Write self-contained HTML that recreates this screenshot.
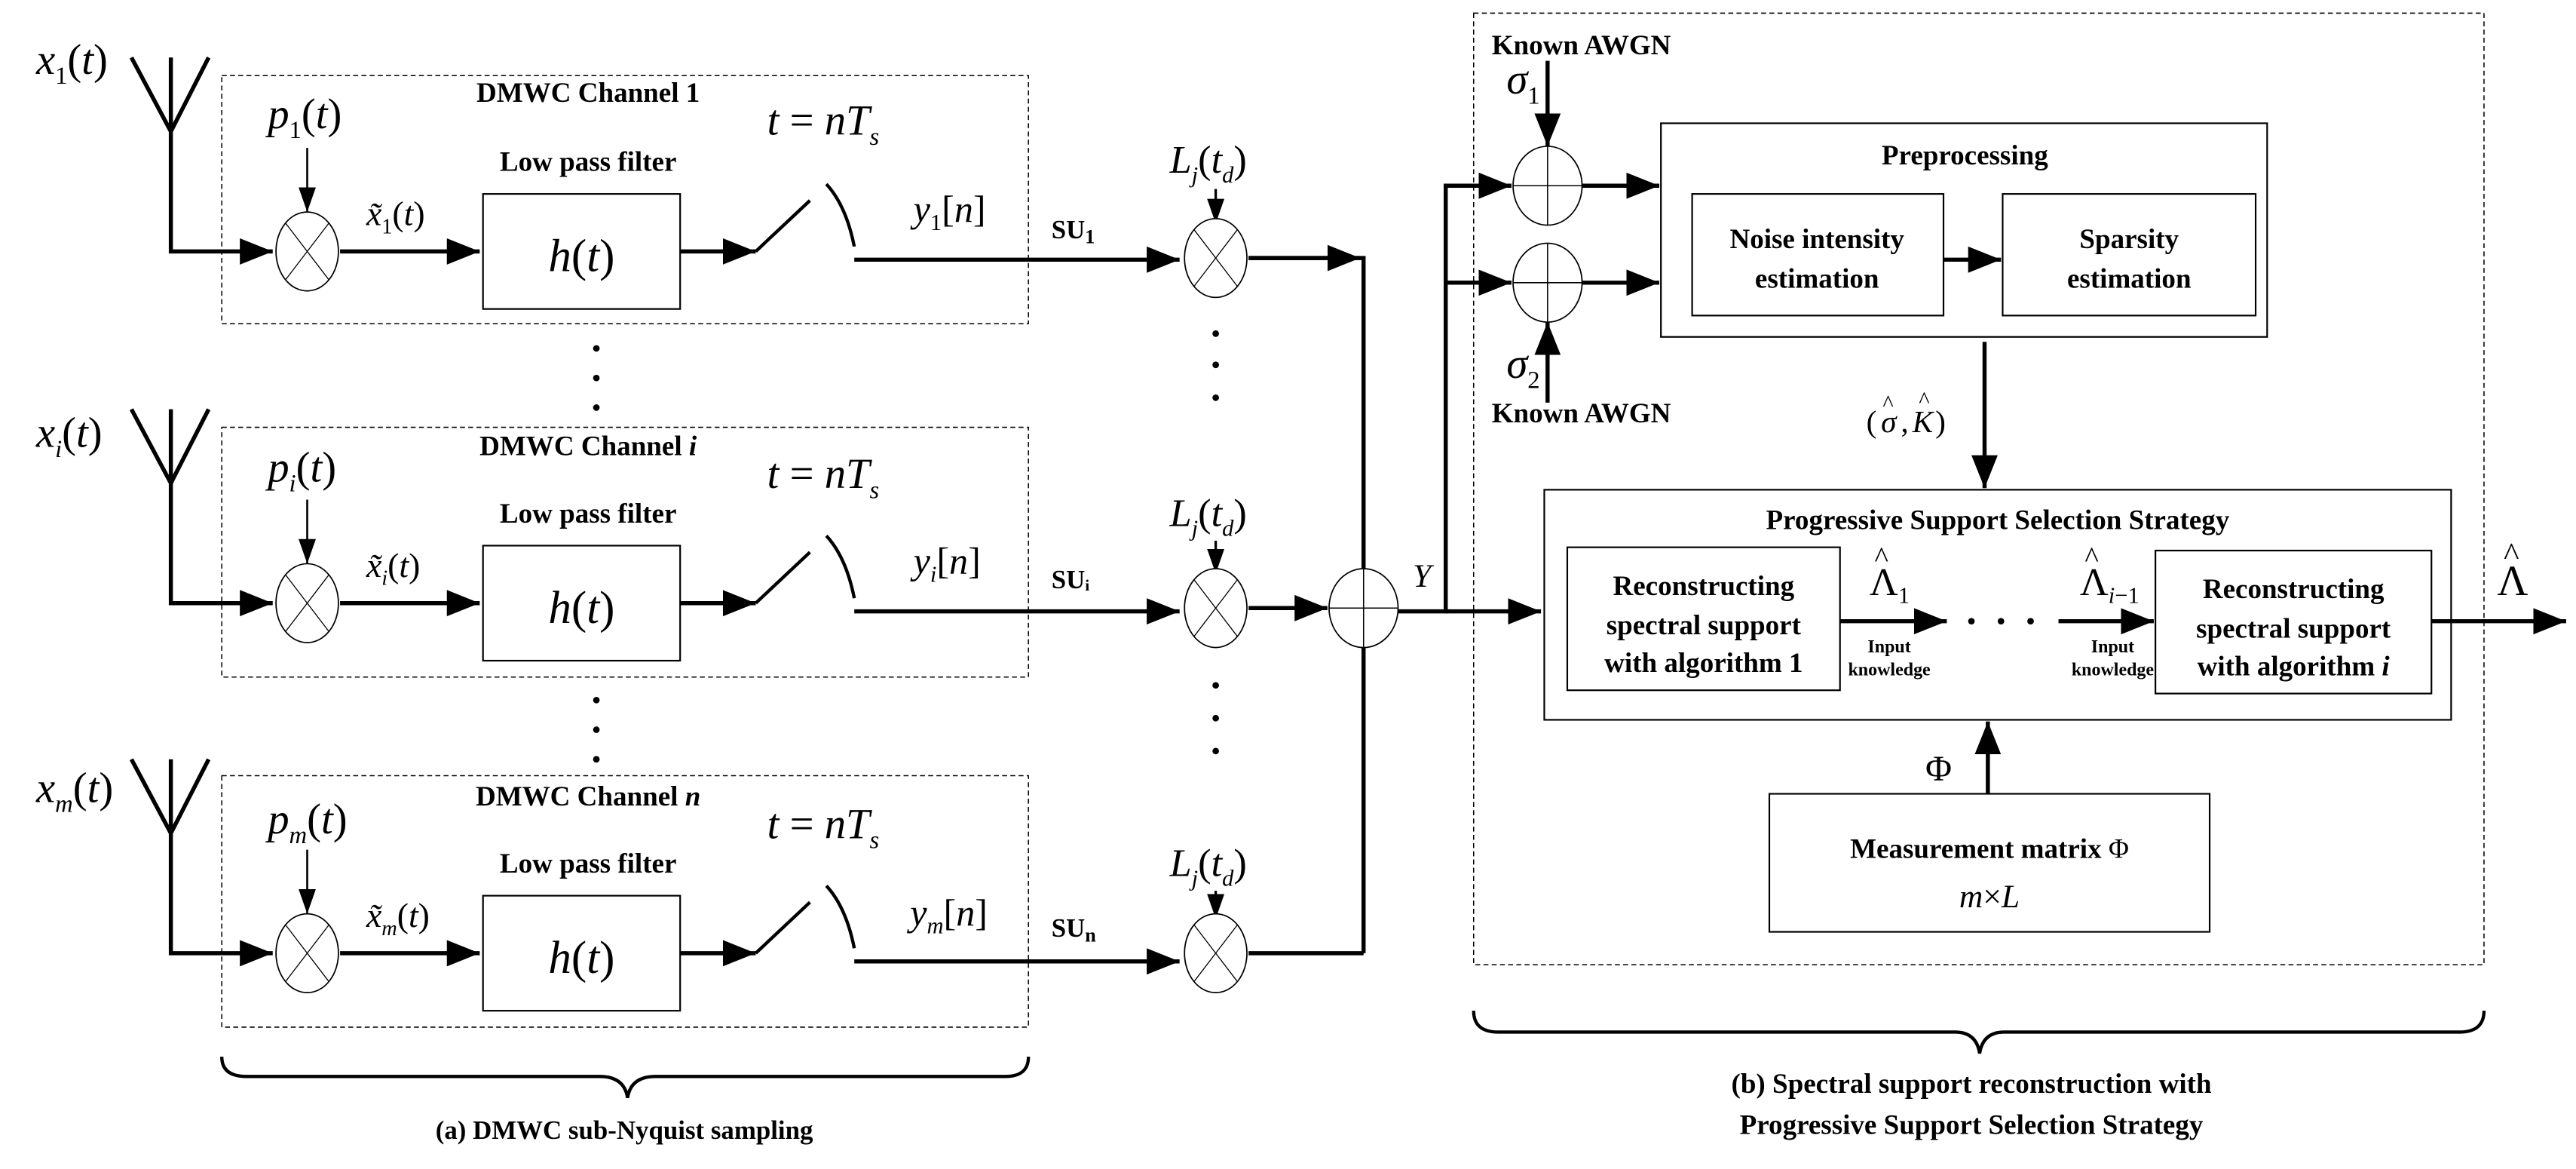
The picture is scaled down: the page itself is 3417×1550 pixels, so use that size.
<!DOCTYPE html>
<html><head><meta charset="utf-8"><style>
html,body{margin:0;padding:0;background:#fff;width:3417px;height:1550px;overflow:hidden}
svg{display:block}
text{font-family:"Liberation Serif",serif;fill:#000}
.b{font-weight:bold}
.m{font-style:italic}
</style></head><body>
<svg width="3417" height="1550" viewBox="0 0 1568 711.3" preserveAspectRatio="none" xmlns="http://www.w3.org/2000/svg">
<defs>
<marker id="A" viewBox="0 0 10 10" refX="10" refY="5" markerWidth="20" markerHeight="20" orient="auto" markerUnits="userSpaceOnUse"><path d="M0,1L10,5L0,9z"/></marker>
<marker id="S" viewBox="0 0 10 10" refX="10" refY="5" markerWidth="15" markerHeight="15" orient="auto" markerUnits="userSpaceOnUse"><path d="M0,1.5L10,5L0,8.5z"/></marker>
<g id="mul"><ellipse cx="0" cy="0" rx="19" ry="24" fill="#fff" stroke="#000" stroke-width="0.8"/><path d="M-13,-17L13,17M13,-17L-13,17" stroke="#000" stroke-width="0.6"/></g>
<g id="add"><ellipse cx="0" cy="0" rx="21" ry="24" fill="#fff" stroke="#000" stroke-width="0.8"/><path d="M-21,0H21M0,-24V24" stroke="#000" stroke-width="0.7"/></g>
</defs>
<g fill="none" stroke="#000">
<rect x="135" y="46" width="491" height="151" stroke-dasharray="3,2" stroke-width="0.7"/>
<rect x="135" y="260" width="491" height="152" stroke-dasharray="3,2" stroke-width="0.7"/>
<rect x="135" y="472" width="491" height="153" stroke-dasharray="3,2" stroke-width="0.7"/>
<rect x="897" y="8" width="615" height="579" stroke-dasharray="3,2" stroke-width="0.7"/>
</g>

<g fill="#fff" stroke="#000" stroke-width="1">
<rect x="1011" y="75" width="369" height="130"/>
<rect x="1030" y="118" width="153" height="74"/>
<rect x="1219" y="118" width="154" height="74"/>
<rect x="940" y="298" width="552" height="140"/>
<rect x="954" y="333" width="166" height="87"/>
<rect x="1312" y="335" width="168" height="87"/>
<rect x="1077" y="483" width="268" height="84"/>
</g>

<g id="row1">
<path d="M80,35L104,80L127,35M104,35V153H166" fill="none" stroke="#000" stroke-width="2.5" marker-end="url(#A)"/>
<path d="M187,90V129" stroke="#000" stroke-width="1.2" marker-end="url(#S)"/>
<use href="#mul" x="187" y="153"/>
<path d="M207,153H292" stroke="#000" stroke-width="2.5" marker-end="url(#A)"/>
<rect x="294" y="118" width="120" height="70" fill="#fff" stroke="#000" stroke-width="1"/>
<path d="M414,153H460" stroke="#000" stroke-width="2.5" marker-end="url(#A)"/>
<path d="M460,153L493,122M503,112Q515,125 520,150" fill="none" stroke="#000" stroke-width="2"/>
<path d="M520,158H718" stroke="#000" stroke-width="2.5" marker-end="url(#A)"/>
</g>
<use href="#row1" y="214"/>
<use href="#row1" y="427"/>

<g stroke="#000">
<path d="M740,115V136" stroke-width="1.5" marker-end="url(#S)"/>
<path d="M740,329V349" stroke-width="1.5" marker-end="url(#S)"/>
<path d="M740,542V559" stroke-width="1.5" marker-end="url(#S)"/>
<path d="M760,157H830V580M760,580H830" stroke-width="2.5" fill="none"/>
<path d="M760,157H828" stroke-width="2.5" marker-end="url(#A)"/>
<path d="M760,370H808" stroke-width="2.5" marker-end="url(#A)"/>
<path d="M850,372H880V113H920M880,172H920" stroke-width="2.5" fill="none"/>
<path d="M880,113H920" stroke-width="2.5" marker-end="url(#A)"/>
<path d="M880,172H920" stroke-width="2.5" marker-end="url(#A)"/>
<path d="M880,372H938" stroke-width="2.5" marker-end="url(#A)"/>
<path d="M942,37V89" stroke-width="2.5" marker-end="url(#A)"/>
<path d="M942,245V196" stroke-width="2.5" marker-end="url(#A)"/>
<path d="M963,113H1010" stroke-width="2.5" marker-end="url(#A)"/>
<path d="M963,172H1010" stroke-width="2.5" marker-end="url(#A)"/>
<path d="M1183,158H1218" stroke-width="2.5" marker-end="url(#A)"/>
<path d="M1208,208V297" stroke-width="2.5" marker-end="url(#A)"/>
<path d="M1120,378H1185" stroke-width="2.5" marker-end="url(#A)"/>
<path d="M1253,378H1311" stroke-width="2.5" marker-end="url(#A)"/>
<path d="M1480,378H1562" stroke-width="2.5" marker-end="url(#A)"/>
<path d="M1210,483V439" stroke-width="2.5" marker-end="url(#A)"/>
</g>
<use href="#mul" x="740" y="157"/>
<use href="#mul" x="740" y="370"/>
<use href="#mul" x="740" y="580"/>
<use href="#add" x="830" y="370"/>
<use href="#add" x="942" y="113"/>
<use href="#add" x="942" y="172"/>

<g fill="#000">
<circle cx="363" cy="212" r="2"/><circle cx="363" cy="230" r="2"/><circle cx="363" cy="248" r="2"/>
<circle cx="363" cy="426" r="2"/><circle cx="363" cy="444" r="2"/><circle cx="363" cy="462" r="2"/>
<circle cx="740" cy="203" r="2"/><circle cx="740" cy="222" r="2"/><circle cx="740" cy="242" r="2"/>
<circle cx="740" cy="417" r="2"/><circle cx="740" cy="437" r="2"/><circle cx="740" cy="457" r="2"/>
<circle cx="1200" cy="378" r="2"/><circle cx="1218" cy="378" r="2"/><circle cx="1236" cy="378" r="2"/>
</g>

<path d="M135,643Q135,655 150,655H365Q380,655 382,668Q384,655 399,655H612Q626,655 626,643" fill="none" stroke="#000" stroke-width="2"/>
<path d="M897,615Q897,628 912,628H1190Q1203,628 1205,641Q1207,628 1220,628H1497Q1512,628 1512,615" fill="none" stroke="#000" stroke-width="2"/>

<g font-size="26">
<text x="22" y="45" class="m">x<tspan font-size="15" dy="6" font-style="normal">1</tspan><tspan dy="-6" font-style="normal">(</tspan>t<tspan font-style="normal">)</tspan></text>
<text x="22" y="272" class="m">x<tspan font-size="15" dy="6">i</tspan><tspan dy="-6" font-style="normal">(</tspan>t<tspan font-style="normal">)</tspan></text>
<text x="22" y="488" class="m">x<tspan font-size="15" dy="6">m</tspan><tspan dy="-6" font-style="normal">(</tspan>t<tspan font-style="normal">)</tspan></text>
<text x="163" y="78" class="m">p<tspan font-size="15" dy="6" font-style="normal">1</tspan><tspan dy="-6" font-style="normal">(</tspan>t<tspan font-style="normal">)</tspan></text>
<text x="163" y="293" class="m">p<tspan font-size="15" dy="6">i</tspan><tspan dy="-6" font-style="normal">(</tspan>t<tspan font-style="normal">)</tspan></text>
<text x="163" y="507" class="m">p<tspan font-size="15" dy="6">m</tspan><tspan dy="-6" font-style="normal">(</tspan>t<tspan font-style="normal">)</tspan></text>
</g>
<g font-size="21">
<text x="223" y="137" class="m">x̃<tspan font-size="13" dy="5" font-style="normal">1</tspan><tspan dy="-5" font-style="normal">(</tspan>t<tspan font-style="normal">)</tspan></text>
<text x="223" y="351" class="m">x̃<tspan font-size="13" dy="5">i</tspan><tspan dy="-5" font-style="normal">(</tspan>t<tspan font-style="normal">)</tspan></text>
<text x="223" y="564" class="m">x̃<tspan font-size="13" dy="5">m</tspan><tspan dy="-5" font-style="normal">(</tspan>t<tspan font-style="normal">)</tspan></text>
</g>
<g font-size="17" class="b" text-anchor="middle">
<text x="358" y="62">DMWC Channel 1</text>
<text x="358" y="104">Low pass filter</text>
<text x="358" y="277">DMWC Channel <tspan class="m">i</tspan></text>
<text x="358" y="318">Low pass filter</text>
<text x="358" y="490">DMWC Channel <tspan class="m">n</tspan></text>
<text x="358" y="531">Low pass filter</text>
</g>
<g font-size="28" text-anchor="middle">
<text x="354" y="165"><tspan class="m">h</tspan>(<tspan class="m">t</tspan>)</text>
<text x="354" y="379"><tspan class="m">h</tspan>(<tspan class="m">t</tspan>)</text>
<text x="354" y="592"><tspan class="m">h</tspan>(<tspan class="m">t</tspan>)</text>
</g>
<g font-size="26" class="m">
<text x="467" y="82">t <tspan font-style="normal">=</tspan> nT<tspan font-size="15" dy="6">s</tspan></text>
<text x="467" y="297">t <tspan font-style="normal">=</tspan> nT<tspan font-size="15" dy="6">s</tspan></text>
<text x="467" y="510">t <tspan font-style="normal">=</tspan> nT<tspan font-size="15" dy="6">s</tspan></text>
</g>
<g font-size="23" class="m">
<text x="556" y="135">y<tspan font-size="14" dy="5" font-style="normal">1</tspan><tspan dy="-5" font-style="normal">[</tspan>n<tspan font-style="normal">]</tspan></text>
<text x="556" y="349">y<tspan font-size="14" dy="5">i</tspan><tspan dy="-5" font-style="normal">[</tspan>n<tspan font-style="normal">]</tspan></text>
<text x="554" y="563">y<tspan font-size="14" dy="5">m</tspan><tspan dy="-5" font-style="normal">[</tspan>n<tspan font-style="normal">]</tspan></text>
</g>
<g font-size="16" class="b">
<text x="640" y="145">SU<tspan font-size="12" dy="3">1</tspan></text>
<text x="640" y="358">SUᵢ</text>
<text x="640" y="570">SU<tspan font-size="12" dy="3">n</tspan></text>
</g>
<g font-size="24" class="m">
<text x="712" y="105">L<tspan font-size="14" dy="6">j</tspan><tspan dy="-6" font-style="normal">(</tspan>t<tspan font-size="14" dy="6">d</tspan><tspan dy="-6" font-style="normal">)</tspan></text>
<text x="712" y="320">L<tspan font-size="14" dy="6">j</tspan><tspan dy="-6" font-style="normal">(</tspan>t<tspan font-size="14" dy="6">d</tspan><tspan dy="-6" font-style="normal">)</tspan></text>
<text x="712" y="533">L<tspan font-size="14" dy="6">j</tspan><tspan dy="-6" font-style="normal">(</tspan>t<tspan font-size="14" dy="6">d</tspan><tspan dy="-6" font-style="normal">)</tspan></text>
<text x="860" y="357" font-size="20">Y</text>
</g>
<text x="380" y="693" font-size="16" class="b" text-anchor="middle">(a) DMWC sub-Nyquist sampling</text>

<g font-size="17" class="b">
<text x="908" y="33">Known AWGN</text>
<text x="908" y="257">Known AWGN</text>
</g>
<text x="917" y="57" font-size="26" class="m">σ<tspan font-size="15" dy="6" font-style="normal">1</tspan></text>
<text x="917" y="230" font-size="26" class="m">σ<tspan font-size="15" dy="6" font-style="normal">2</tspan></text>
<g font-size="17" class="b" text-anchor="middle">
<text x="1196" y="100">Preprocessing</text>
<text x="1106" y="151">Noise intensity</text>
<text x="1106" y="175">estimation</text>
<text x="1296" y="151">Sparsity</text>
<text x="1296" y="175">estimation</text>
<text x="1216" y="322">Progressive Support Selection Strategy</text>
<text x="1037" y="362">Reconstructing</text>
<text x="1037" y="386">spectral support</text>
<text x="1037" y="409">with algorithm 1</text>
<text x="1396" y="364">Reconstructing</text>
<text x="1396" y="388">spectral support</text>
<text x="1396" y="411">with algorithm <tspan class="m">i</tspan></text>
<text x="1211" y="522">Measurement matrix <tspan font-weight="normal">Φ</tspan></text>
<text x="1200" y="665">(b) Spectral support reconstruction with</text>
<text x="1200" y="690">Progressive Support Selection Strategy</text>
</g>
<g font-size="11" class="b" text-anchor="middle">
<text x="1150" y="397">Input</text><text x="1150" y="411">knowledge</text>
<text x="1286" y="397">Input</text><text x="1286" y="411">knowledge</text>
</g>
<text x="1211" y="552" font-size="20" text-anchor="middle"><tspan class="m">m</tspan>×<tspan class="m">L</tspan></text>
<g font-size="19">
<text x="1136" y="263">(</text>
<text x="1145" y="263" class="m">σ</text><text x="1146" y="250" font-size="14">^</text>
<text x="1157" y="263">,</text>
<text x="1164" y="263" class="m">K</text><text x="1168" y="248" font-size="14">^</text>
<text x="1178" y="263">)</text>
</g>
<text x="1138" y="362" font-size="24">Λ<tspan font-size="14" dy="5">1</tspan></text><text x="1141" y="345" font-size="18">^</text>
<text x="1266" y="362" font-size="24">Λ<tspan font-size="14" dy="5" class="m">i</tspan><tspan font-size="14">−1</tspan></text><text x="1269" y="345" font-size="18">^</text>
<text x="1520" y="362" font-size="26">Λ</text><text x="1524" y="344" font-size="20">^</text>
<text x="1172" y="475" font-size="22">Φ</text>
</svg>
</body></html>
